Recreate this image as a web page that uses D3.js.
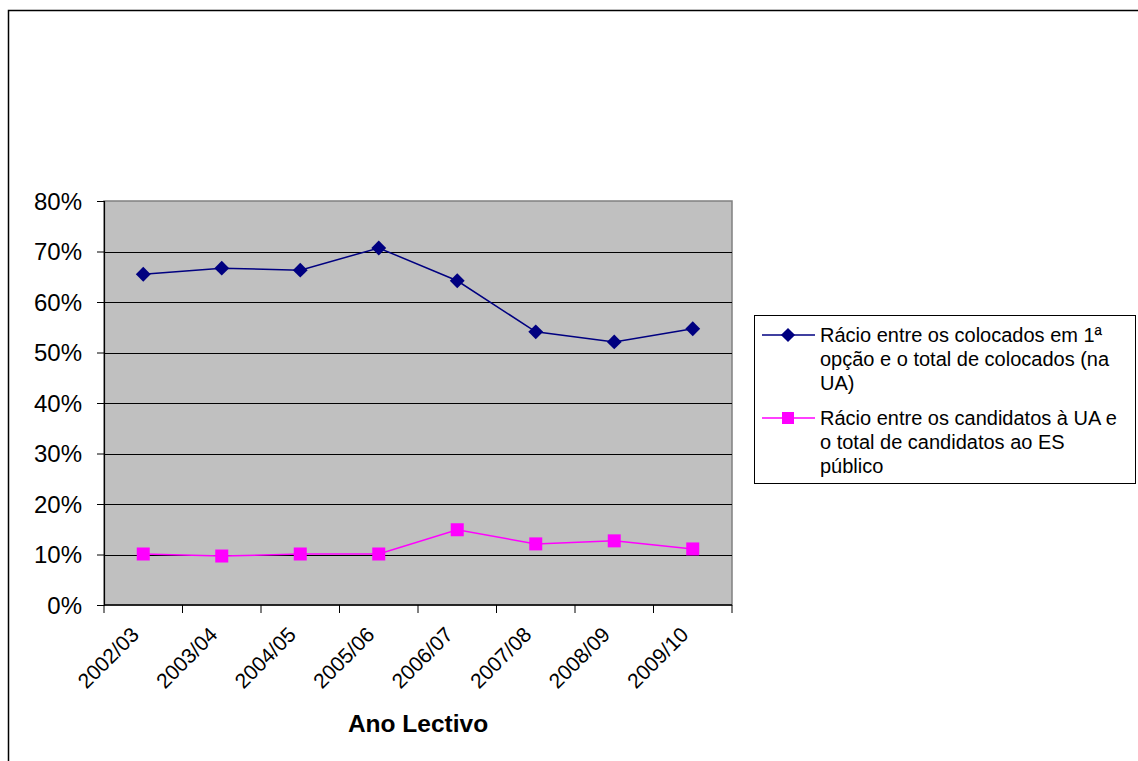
<!DOCTYPE html>
<html>
<head>
<meta charset="utf-8">
<script src="https://cdn.jsdelivr.net/npm/d3@7"></script>
<style>
  body { margin: 0; background: #fff; }
  svg { display: block; font-family: "Liberation Sans", Arial, sans-serif; }
</style>
</head>
<body>
<div id="chart"></div>
<script>
// ---------- Data ----------
const years = ["2002/03", "2003/04", "2004/05", "2005/06", "2006/07", "2007/08", "2008/09", "2009/10"];
const colocados = [0.655, 0.667, 0.663, 0.707, 0.642, 0.541, 0.521, 0.547];
const candidatos = [0.101, 0.097, 0.101, 0.101, 0.149, 0.121, 0.127, 0.111];
const yTicks = [0, 0.1, 0.2, 0.3, 0.4, 0.5, 0.6, 0.7, 0.8];
const seriesNames = [
  ["Rácio entre os colocados em 1ª", "opção e o total de colocados (na", "UA)"],
  ["Rácio entre os candidatos à UA e", "o total de candidatos ao ES", "público"]
];

const W = 1138, H = 761;
const svg = d3.select("#chart").append("svg").attr("width", W).attr("height", H);

// outer chart border (runs off right/bottom)
svg.append("rect")
  .attr("x", 8.5).attr("y", 10.5).attr("width", W + 20).attr("height", H + 20)
  .attr("fill", "none").attr("stroke", "#000").attr("stroke-width", 1.5);

// ---------- Geometry ----------
const plot = { left: 104, right: 732, top: 201, bottom: 605 };

const x = d3.scaleBand().domain(years).range([plot.left, plot.right]);
const y = d3.scaleLinear().domain([0, 0.8]).range([plot.bottom, plot.top]);

// plot background
svg.append("rect")
  .attr("x", plot.left).attr("y", plot.top)
  .attr("width", plot.right - plot.left).attr("height", plot.bottom - plot.top)
  .attr("fill", "#C0C0C0").attr("stroke", "#808080").attr("stroke-width", 1.5);

// gridlines
svg.append("g").selectAll("line")
  .data(yTicks.filter(t => t > 0 && t < 0.8))
  .join("line")
  .attr("x1", plot.left).attr("x2", plot.right)
  .attr("y1", d => Math.round(y(d)) + 0.5).attr("y2", d => Math.round(y(d)) + 0.5)
  .attr("stroke", "#000").attr("stroke-width", 1);

// ---------- Axes ----------
const yAxis = d3.axisLeft(y).tickValues(yTicks).tickSize(7).tickPadding(15)
  .tickFormat(d3.format(".0%"));
const gy = svg.append("g").attr("transform", `translate(${plot.left},0)`).call(yAxis);
gy.select(".domain").attr("stroke", "#000").attr("stroke-width", 1.2);
gy.selectAll(".tick line").attr("stroke", "#000");
gy.selectAll(".tick text").attr("font-size", 24).attr("fill", "#000")
  .attr("font-family", "Liberation Sans, Arial, sans-serif").attr("dy", "0.35em");

// x axis: ticks at category boundaries
const xBounds = years.map(d => x(d)).concat([plot.right]);
svg.append("line")
  .attr("x1", plot.left).attr("x2", plot.right)
  .attr("y1", plot.bottom).attr("y2", plot.bottom)
  .attr("stroke", "#000").attr("stroke-width", 1.5);
svg.append("g").selectAll("line").data(xBounds).join("line")
  .attr("x1", d => d).attr("x2", d => d)
  .attr("y1", plot.bottom).attr("y2", plot.bottom + 8)
  .attr("stroke", "#000");

svg.append("g").selectAll("text").data(years).join("text")
  .attr("transform", d => `translate(${x(d) + x.bandwidth() / 2 - 3},${plot.bottom + 31}) rotate(-45)`)
  .attr("text-anchor", "end")
  .attr("font-size", 21)
  .attr("fill", "#000")
  .text(d => d);

svg.append("text")
  .attr("x", 418).attr("y", 732)
  .attr("text-anchor", "middle")
  .attr("font-size", 24.5).attr("font-weight", "bold")
  .text("Ano Lectivo");

// ---------- Lines ----------
const cx = d => x(d) + x.bandwidth() / 2;
const line = d3.line().x((d, i) => cx(years[i])).y(d => y(d));

svg.append("path").datum(colocados)
  .attr("d", line).attr("fill", "none").attr("stroke", "#000080").attr("stroke-width", 1.5);
svg.append("path").datum(candidatos)
  .attr("d", line).attr("fill", "none").attr("stroke", "#FF00FF").attr("stroke-width", 1.5);

svg.append("g").selectAll("path").data(colocados).join("path")
  .attr("d", d3.symbol().type(d3.symbolSquare).size(110))
  .attr("transform", (d, i) => `translate(${cx(years[i])},${y(d)}) rotate(45)`)
  .attr("fill", "#000080");

svg.append("g").selectAll("rect").data(candidatos).join("rect")
  .attr("x", (d, i) => cx(years[i]) - 6.5).attr("y", d => y(d) - 6.5)
  .attr("width", 13).attr("height", 13)
  .attr("fill", "#FF00FF");

// ---------- Legend ----------
const lg = svg.append("g");
lg.append("rect")
  .attr("x", 754.5).attr("y", 315.5).attr("width", 381).attr("height", 168)
  .attr("fill", "#fff").attr("stroke", "#000").attr("stroke-width", 1);

const legendRows = [
  { names: seriesNames[0], color: "#000080", type: "diamond", y0: 335 },
  { names: seriesNames[1], color: "#FF00FF", type: "square", y0: 418 }
];
legendRows.forEach(r => {
  const g = lg.append("g");
  g.append("line").attr("x1", 762).attr("x2", 815)
    .attr("y1", r.y0).attr("y2", r.y0)
    .attr("stroke", r.color).attr("stroke-width", 1.5);
  if (r.type === "diamond") {
    g.append("path")
      .attr("d", d3.symbol().type(d3.symbolSquare).size(100))
      .attr("transform", `translate(788,${r.y0}) rotate(45)`)
      .attr("fill", r.color);
  } else {
    g.append("rect").attr("x", 782).attr("y", r.y0 - 6).attr("width", 12).attr("height", 12)
      .attr("fill", r.color);
  }
  g.selectAll("text").data(r.names).join("text")
    .attr("x", 820).attr("y", (d, i) => r.y0 + 7 + i * 24)
    .attr("font-size", 20).attr("fill", "#000")
    .text(d => d);
});
</script>
</body>
</html>
